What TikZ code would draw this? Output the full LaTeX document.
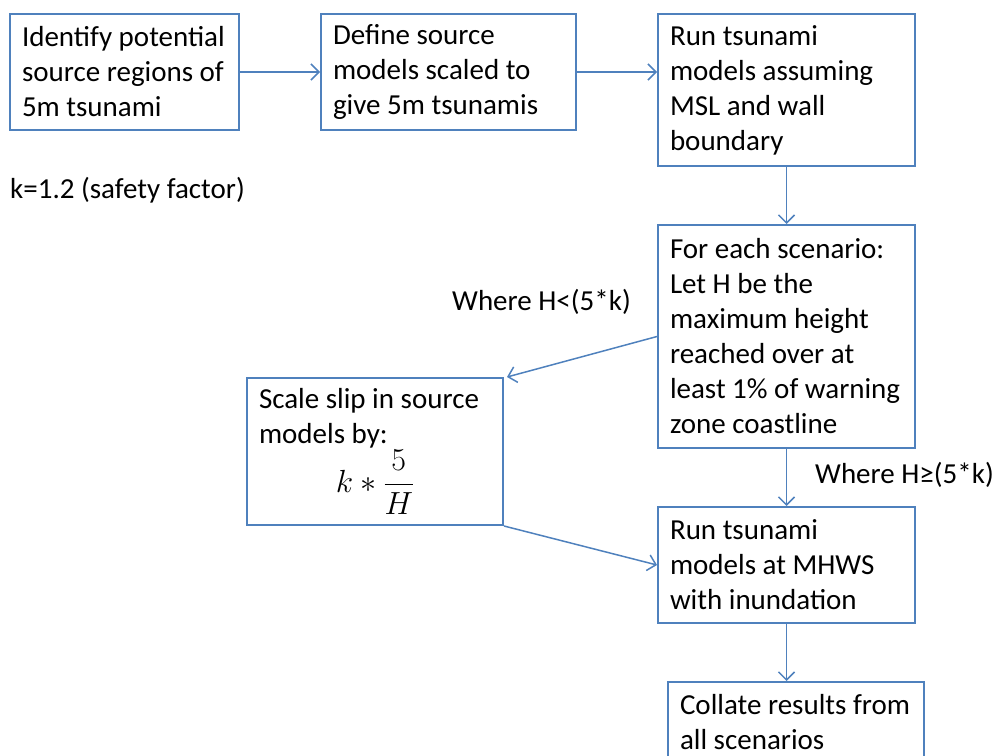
\documentclass[tikz,border=0pt]{standalone}
\usepackage{fix-cm}
\usepackage{amsmath}
\usepackage{fontspec}
\setmainfont{Carlito}
\usetikzlibrary{arrows.meta}
\definecolor{flowblue}{RGB}{79,129,189}
\tikzset{
  stepbox/.style={draw=flowblue, line width=2pt, rectangle, anchor=north west,
    align=flush left, inner xsep=12pt, inner ysep=0pt, font=\fontsize{29}{35}\selectfont},
  flow/.style={draw=flowblue, line width=1.5pt,
    -{Straight Barb[length=8pt,width=16pt,line width=1.5pt]}},
  note/.style={font=\fontsize{29}{35}\selectfont, inner sep=0pt}
}
\begin{document}
\begin{tikzpicture}[x=1pt,y=-1pt]
\useasboundingbox (0,0) rectangle (995,755);
\clip (0,0) rectangle (995,755);

% process boxes, placed by their top-left corners
\node[stepbox, minimum width=229pt, minimum height=116pt, text width=205pt] (b1) at (9,13)
  {Identify potential\\source regions of\\5m tsunami};
\node[stepbox, minimum width=255pt, minimum height=116pt, text width=231pt] (b2) at (320,13)
  {Define source\\models scaled to\\give 5m tsunamis};
\node[stepbox, minimum width=257pt, minimum height=152pt, text width=233pt] (b3) at (657,13)
  {Run tsunami\\models assuming\\MSL and wall\\boundary};
\node[stepbox, minimum width=257pt, minimum height=223pt, text width=233pt] (b4) at (657,224)
  {For each scenario:\\Let H be the\\maximum height\\reached over at\\least 1\% of warning\\zone coastline};
\node[stepbox, minimum width=256pt, minimum height=147pt, text width=232pt] (b5) at (246,377)
  {Scale slip in source\\models by:\\[1pt]\makebox[232pt]{\fontsize{32}{35}\selectfont$\displaystyle k*\frac{5}{H}$}};
\node[stepbox, minimum width=257pt, minimum height=116pt, text width=233pt] (b6) at (657,506)
  {Run tsunami\\models at MHWS\\with inundation};
\node[stepbox, minimum width=256pt, minimum height=80pt, text width=232pt] (b7) at (667,681)
  {Collate results from\\all scenarios};

% free-standing notes
\node[note, anchor=west] (kval) at (10,190) {k=1.2 (safety factor)};
\node[note, anchor=west] (lowlbl) at (452,302) {Where H<(5*k)};
\node[note, anchor=west] (highlbl) at (815,475) {Where H≥(5*k)};

% connectors
\draw[flow] (b1.east) -- (b2.west);
\draw[flow] (b2.east) -- (b2.east -| b3.west);
\draw[flow] (b3.south) -- (b4.north);
\draw[flow] (b4.west) -- ([xshift=3pt]b5.north east);
\draw[flow] (b4.south) -- (b6.north);
\draw[flow] (b5.south east) -- (b6.west);
\draw[flow] (b6.south) -- (b6.south |- b7.north);
\end{tikzpicture}
\end{document}
